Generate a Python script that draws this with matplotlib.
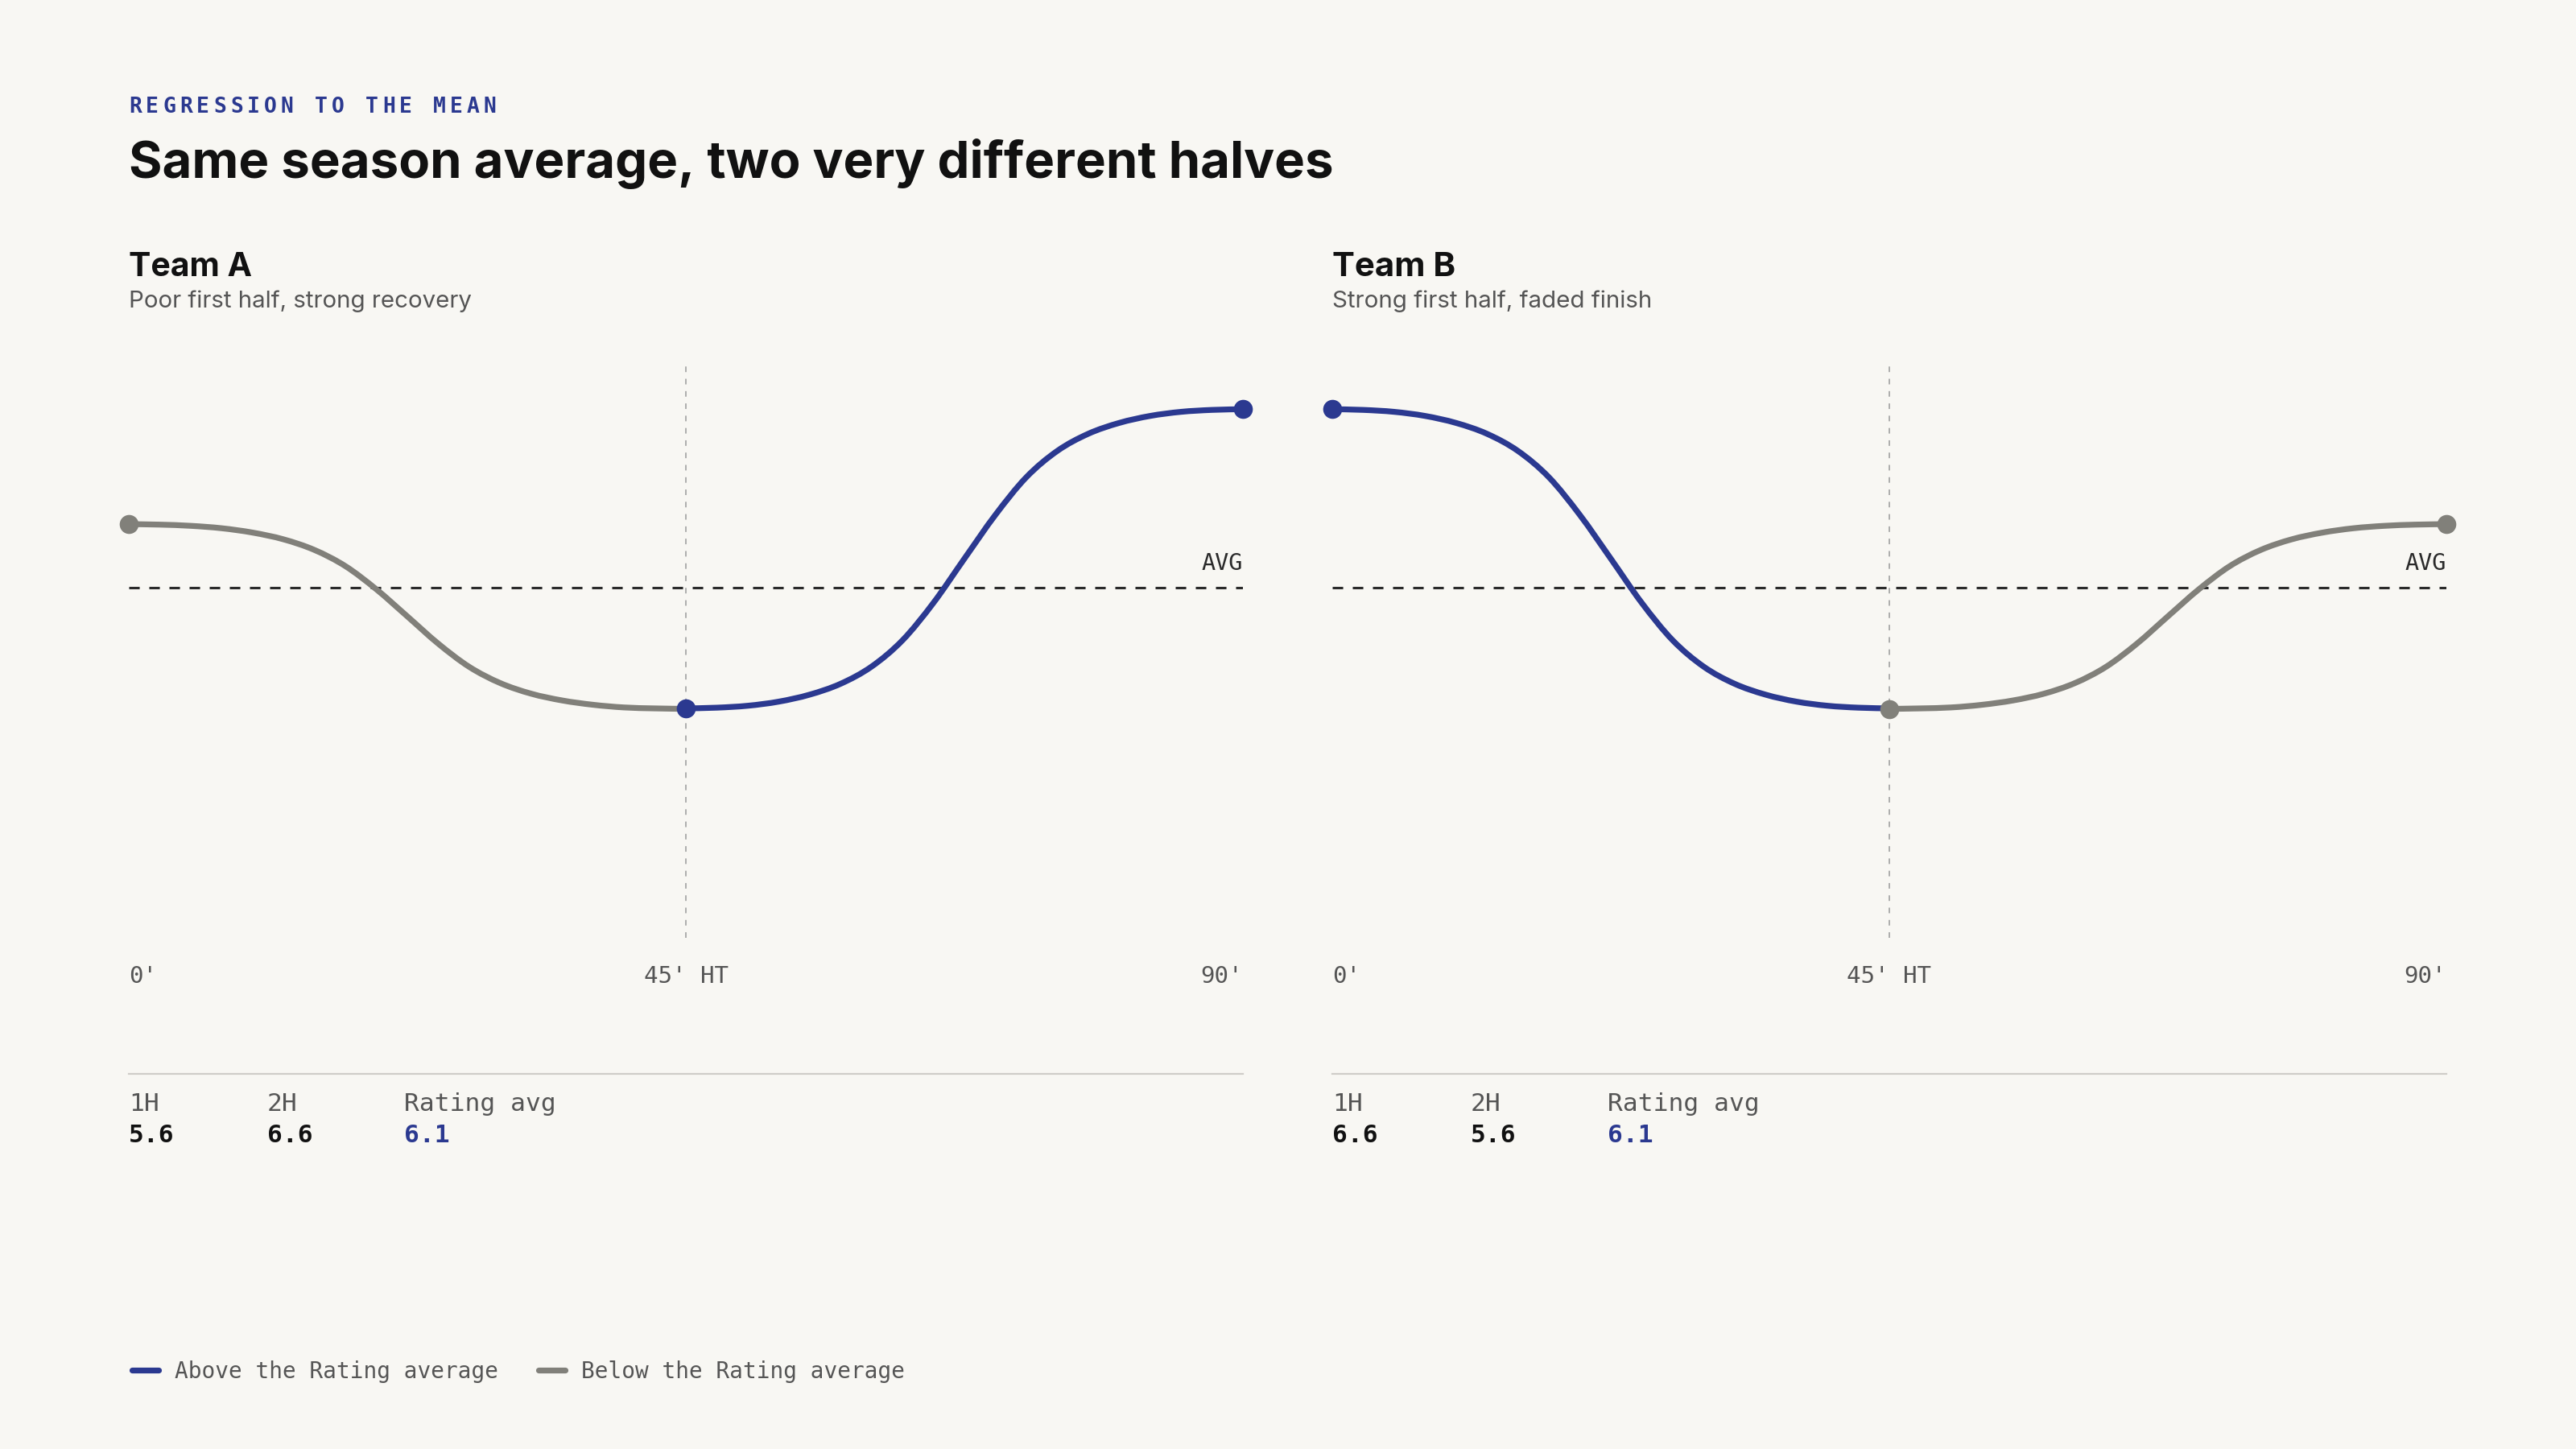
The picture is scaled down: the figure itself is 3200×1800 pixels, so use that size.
import matplotlib
matplotlib.use("Agg")
import matplotlib.pyplot as plt
from matplotlib.lines import Line2D
from matplotlib.path import Path
from matplotlib.patches import PathPatch
from matplotlib.transforms import blended_transform_factory

W, H, DPI = 3200, 1800, 100
plt.rcParams['lines.scale_dashes'] = False

# ---------------- data ----------------
minutes_1h = [0, 2.5, 5, 7.5, 10, 12.5, 15, 17.5, 20, 22.5, 25, 27.5, 30, 32.5, 35, 37.5, 40, 42.5, 45]
minutes_2h = [45, 47.5, 50, 52.5, 55, 57.5, 60, 62.5, 65, 67.5, 70, 72.5, 75, 77.5, 80, 82.5, 85, 87.5, 90]

team_a_1h = [6.363, 6.361, 6.356, 6.346, 6.328, 6.300, 6.256, 6.189, 6.093, 5.981,
             5.868, 5.772, 5.705, 5.661, 5.633, 5.615, 5.604, 5.600, 5.598]
team_a_2h = [5.600, 5.603, 5.611, 5.628, 5.657, 5.702, 5.773, 5.882, 6.037, 6.220,
             6.401, 6.557, 6.666, 6.737, 6.782, 6.811, 6.828, 6.836, 6.839]
team_b_1h = [6.839, 6.836, 6.828, 6.811, 6.782, 6.737, 6.666, 6.557, 6.401, 6.220,
             6.037, 5.882, 5.773, 5.702, 5.657, 5.628, 5.611, 5.603, 5.600]
team_b_2h = [5.598, 5.600, 5.604, 5.615, 5.633, 5.661, 5.705, 5.772, 5.868, 5.981,
             6.093, 6.189, 6.256, 6.300, 6.328, 6.346, 6.356, 6.361, 6.363]

season_avg = 6.1
team_names = ["Team A", "Team B"]
team_subtitles = ["Poor first half, strong recovery", "Strong first half, faded finish"]
stat_labels = ["1H", "2H", "Rating avg"]
team_a_stats = ["5.6", "6.6", "6.1"]
team_b_stats = ["6.6", "5.6", "6.1"]
half_above = [[False, True], [True, False]]   # is 1H / 2H above the rating average
x_ticks = [0, 45, 90]
x_tick_labels = ["0'", "45' HT", "90'"]
legend_labels = ["Above the Rating average", "Below the Rating average"]

# ---------------- style ----------------
BG = "#f8f7f3"
BLUE = "#2b3990"
GREY = "#81807a"
INK = "#111111"
MUTED = "#555555"
MONO = "DejaVu Sans Mono"
SANS = "Inter"

fig = plt.figure(figsize=(W / DPI, H / DPI), dpi=DPI, facecolor=BG)
renderer = fig.canvas.get_renderer()


def fx(x):
    return x / W


def fy(y):
    return 1 - y / H


def fit_text(x, y, s, width, **kw):
    t = fig.text(fx(x), fy(y), s, va="baseline", ha="left", **kw)
    bb = t.get_window_extent(renderer=renderer)
    t.set_fontsize(t.get_fontsize() * width / bb.width)
    return t


def spaced(x, y, s, advance, **kw):
    for i, ch in enumerate(s):
        fig.text(fx(x + i * advance), fy(y), ch, va="baseline", ha="left", **kw)


def smooth_line(ax, xs, ys, **kw):
    """Draw a smooth (Catmull-Rom) curve through the data points."""
    pts = list(zip(xs, ys))
    n = len(pts)
    verts = [pts[0]]
    codes = [Path.MOVETO]
    for i in range(n - 1):
        p0 = pts[max(i - 1, 0)]
        p1 = pts[i]
        p2 = pts[i + 1]
        p3 = pts[min(i + 2, n - 1)]
        c1 = (p1[0] + (p2[0] - p0[0]) / 6, p1[1] + (p2[1] - p0[1]) / 6)
        c2 = (p2[0] - (p3[0] - p1[0]) / 6, p2[1] - (p3[1] - p1[1]) / 6)
        verts += [c1, c2, p2]
        codes += [Path.CURVE4] * 3
    patch = PathPatch(Path(verts, codes), fill=False, transform=ax.transData,
                      clip_on=False, capstyle="round", joinstyle="round", **kw)
    ax.add_patch(patch)


# header
spaced(160, 140, "REGRESSION TO THE MEAN", 21.0, fontsize=19, family=MONO,
       weight="bold", color=BLUE)
fit_text(160, 221, "Same season average, two very different halves", 1496,
         fontsize=46, family=SANS, weight="bold", color=INK)

panels = [
    (160, team_a_1h, team_a_2h, team_a_stats),
    (1655, team_b_1h, team_b_2h, team_b_stats),
]
pw, top, bottom = 1384, 451, 1165
ylo, yhi = 4.65, 7.03

for i, (x0, v1, v2, stats) in enumerate(panels):
    fit_text(x0, 343, team_names[i], 153, fontsize=28, family=SANS, weight="bold", color=INK)
    fit_text(x0, 382, team_subtitles[i], 427 if i == 0 else 398, fontsize=20,
             family=SANS, color=MUTED)

    ax = fig.add_axes([fx(x0), fy(bottom), pw / W, (bottom - top) / H])
    ax.set_facecolor("none")
    ax.set_xlim(0, 90)
    ax.set_ylim(ylo, yhi)
    ax.axis("off")

    c1 = BLUE if half_above[i][0] else GREY
    c2 = BLUE if half_above[i][1] else GREY

    ax.axvline(45, color="#9a9a9a", lw=1.1, dashes=(5, 6), zorder=1)
    ax.axhline(season_avg, color="#2a2a2a", lw=2.2, dashes=(9.4, 8.6), zorder=2)
    ax.annotate("AVG", xy=(90, season_avg), xytext=(0, 22), textcoords="offset pixels",
                ha="right", va="baseline", fontsize=20.5, family=MONO, color="#2a2a2a")

    smooth_line(ax, minutes_1h, v1, edgecolor=c1, lw=5.2, zorder=3)
    smooth_line(ax, minutes_2h, v2, edgecolor=c2, lw=5.2, zorder=3)
    ax.plot([minutes_1h[0]], [v1[0]], "o", ms=17, color=c1, mec="none", zorder=5, clip_on=False)
    ax.plot([minutes_2h[0]], [v2[0]], "o", ms=17, color=c2, mec="none", zorder=5, clip_on=False)
    ax.plot([minutes_2h[-1]], [v2[-1]], "o", ms=17, color=c2, mec="none", zorder=5, clip_on=False)

    tr = blended_transform_factory(ax.transData, fig.transFigure)
    aligns = ["left", "center", "right"]
    for xt, lab, ha in zip(x_ticks, x_tick_labels, aligns):
        ax.text(xt, fy(1221), lab, transform=tr, ha=ha, va="baseline",
                fontsize=21, family=MONO, color=MUTED)

    fig.add_artist(Line2D([fx(x0), fx(x0 + pw)], [fy(1334), fy(1334)], color="#cfcdc8", lw=1.6))
    offs = [0, 172, 342]
    for j, (lab, val) in enumerate(zip(stat_labels, stats)):
        fig.text(fx(x0 + offs[j]), fy(1380), lab, ha="left", va="baseline",
                 fontsize=22.5, family=MONO, color=MUTED)
        fig.text(fx(x0 + offs[j]), fy(1419), val, ha="left", va="baseline",
                 fontsize=22.5, family=MONO, weight="bold",
                 color=BLUE if j == 2 else INK)

# legend
for (sx, tx, col, lab) in [(161, 217, BLUE, legend_labels[0]), (666, 722, GREY, legend_labels[1])]:
    fig.add_artist(Line2D([fx(sx + 3), fx(sx + 36)], [fy(1702), fy(1702)], color=col,
                          lw=5.2, solid_capstyle="round"))
    fig.text(fx(tx), fy(1712), lab, ha="left", va="baseline", fontsize=20,
             family=MONO, color=MUTED)

fig.savefig("out.png", dpi=DPI, facecolor=BG)
